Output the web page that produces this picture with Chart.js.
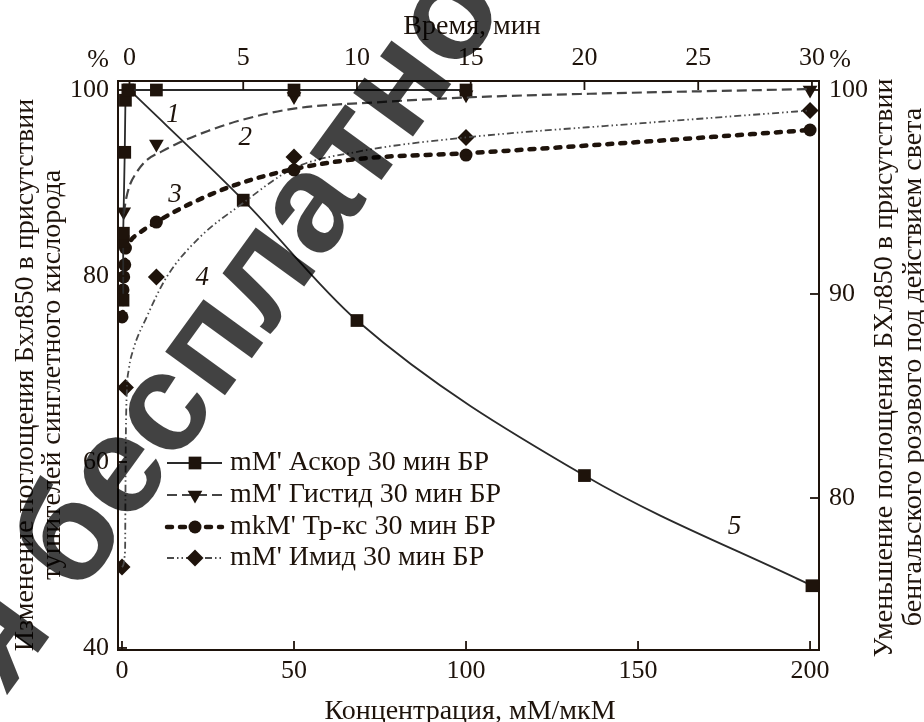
<!DOCTYPE html>
<html><head><meta charset="utf-8">
<script src="https://cdn.jsdelivr.net/npm/chart.js@4.4.1/dist/chart.umd.min.js"></script>
<style>html,body{margin:0;padding:0;background:#fff;}canvas{display:block;}</style>
</head><body>
<canvas id="c" width="924" height="722"></canvas>
<script>
// ---- tick labels ----
const concTicks = [0, 50, 100, 150, 200];
const timeTicks = [0, 5, 10, 15, 20, 25, 30];
const leftTicks = [40, 60, 80, 100];
const rightTicks = [80, 90, 100];

// ---- series names ----
const seriesNames = ["mM' Аскор 30 мин БР", "mM' Гистид 30 мин БР", "mkM' Тр-кс 30 мин БР", "mM' Имид 30 мин БР"];

// ---- curve 1: ascorbate (concentration, left axis) ----
const ascConc = [0.3, 0.3, 0.4, 0.8, 1.0, 1.7, 10, 50, 100];
const ascVal  = [77.4, 83.7, 84.6, 93.3, 98.9, 100, 100, 100, 100];

// ---- curve 2: histidine ----
const hisConc = [0.5, 10, 50, 100, 200];
const hisVal  = [86.9, 94.2, 99.3, 99.5, 100];
const hisFitConc = [0.5, 1.2, 2.3, 4, 7, 11.6, 17, 25, 35, 50, 75, 100, 136, 200];
const hisFitVal  = [86.7, 88.3, 89.8, 91.0, 92.4, 93.4, 94.4, 95.6, 96.8, 98.0, 98.7, 99.2, 99.6, 100.1];

// ---- curve 3: Trolox ----
const trxConc = [0, 0.3, 0.5, 0.8, 1.0, 10, 50, 100, 200];
const trxVal  = [75.6, 78.5, 79.9, 81.2, 83.0, 85.8, 91.4, 93.0, 95.7];
const trxFitConc = [0.2, 0.5, 1, 2, 5, 10, 20, 33, 50, 69, 100, 150, 200];
const trxFitVal  = [75.6, 79.0, 82.0, 83.4, 84.6, 85.8, 87.8, 89.8, 91.5, 92.6, 93.2, 94.4, 95.7];

// ---- curve 4: imidazole ----
const imdConc = [0, 1.0, 10, 50, 100, 200];
const imdVal  = [48.7, 68.0, 79.9, 92.8, 94.9, 97.8];
const imdFitConc = [0, 0.9, 1.0, 1.1, 1.4, 2.0, 3.2, 7.2, 13, 22.7, 34.3, 50, 69, 100, 150, 200];
const imdFitVal  = [48.7, 50.5, 56, 62, 67.5, 70.0, 72.0, 75.6, 79.9, 84.2, 87.6, 91.6, 93.4, 94.9, 96.4, 97.8];

// ---- curve 5: bleaching vs time (top axis, right axis) ----
const timeMin   = [0, 5, 10, 20, 30];
const bleachVal = [100, 94.6, 88.7, 81.1, 75.7];

// ---- curve number labels ----
const curveLabels = ['1', '2', '3', '4', '5'];
const curveLabelX = [14.8, 35.8, 15.4, 23.3, 26.6];
const curveLabelY = [97.3, 94.9, 88.7, 79.8, 78.6];

const watermarkText = 'я бесплатно';

const ink = '#1e130b';
const serif = '"Liberation Serif","Times New Roman",serif';
const pts = (xs, ys) => xs.map((x, i) => ({x, y: ys[i]}));

const datasets = [
  {label: seriesNames[0], data: pts(ascConc, ascVal), xAxisID: 'x', yAxisID: 'y', showLine: true,
   borderColor: '#2a2a2a', borderWidth: 1.8, tension: 0, pointStyle: 'rect', pointRadius: 9,
   pointBackgroundColor: ink, pointBorderColor: ink, pointBorderWidth: 0},
  {label: seriesNames[1] + ' fit', data: pts(hisFitConc, hisFitVal), xAxisID: 'x', yAxisID: 'y', showLine: true,
   borderColor: '#454545', borderWidth: 2.2, borderDash: [10, 5], pointRadius: 0, cubicInterpolationMode: 'monotone'},
  {label: seriesNames[1], data: pts(hisConc, hisVal), xAxisID: 'x', yAxisID: 'y', showLine: false,
   pointStyle: 'triangle', pointRotation: 180, pointRadius: 8.5, pointBackgroundColor: ink, pointBorderColor: ink, pointBorderWidth: 0},
  {label: seriesNames[2] + ' fit', data: pts(trxFitConc, trxFitVal), xAxisID: 'x', yAxisID: 'y', showLine: true,
   borderColor: ink, borderWidth: 4.5, borderDash: [5, 8], borderCapStyle: 'round', pointRadius: 0, cubicInterpolationMode: 'monotone'},
  {label: seriesNames[2], data: pts(trxConc, trxVal), xAxisID: 'x', yAxisID: 'y', showLine: false,
   pointStyle: 'circle', pointRadius: 6.5, pointBackgroundColor: ink, pointBorderColor: ink, pointBorderWidth: 0},
  {label: seriesNames[3] + ' fit', data: pts(imdFitConc, imdFitVal), xAxisID: 'x', yAxisID: 'y', showLine: true,
   borderColor: '#4a4a4a', borderWidth: 1.8, borderDash: [7, 3, 1.5, 3, 1.5, 3], pointRadius: 0, cubicInterpolationMode: 'monotone'},
  {label: seriesNames[3], data: pts(imdConc, imdVal), xAxisID: 'x', yAxisID: 'y', showLine: false,
   pointStyle: 'rectRot', pointRadius: 8.5, pointBackgroundColor: ink, pointBorderColor: ink, pointBorderWidth: 0},
  {label: 'БР свет', data: pts(timeMin, bleachVal), xAxisID: 'x2', yAxisID: 'y2', showLine: true,
   borderColor: '#2a2a2a', borderWidth: 1.8, cubicInterpolationMode: 'monotone', pointStyle: 'rect', pointRadius: 9,
   pointBackgroundColor: ink, pointBorderColor: ink, pointBorderWidth: 0}
];

const legendEntries = [
  {name: seriesNames[0], line: 0, mark: 0},
  {name: seriesNames[1], line: 1, mark: 2},
  {name: seriesNames[2], line: 3, mark: 4},
  {name: seriesNames[3], line: 5, mark: 6}
];

const tickFont = {family: serif, size: 26};
const setTicks = arr => s => { s.ticks = arr.map(v => ({value: v})); };
const border = {display: true, color: ink, width: 2};
const noGrid = {display: false, drawTicks: false};

const decor = {
  id: 'decor',
  afterDatasetsDraw(chart) {
    const {ctx, chartArea: a, scales} = chart;
    ctx.save();
    // inward ticks
    ctx.strokeStyle = ink; ctx.lineWidth = 1.8;
    const L = 9;
    const seg = (x1, y1, x2, y2) => { ctx.beginPath(); ctx.moveTo(x1, y1); ctx.lineTo(x2, y2); ctx.stroke(); };
    concTicks.forEach(v => { const x = scales.x.getPixelForValue(v); seg(x, a.bottom, x, a.bottom - L); });
    timeTicks.forEach(v => { const x = scales.x2.getPixelForValue(v); seg(x, a.top, x, a.top + L); });
    leftTicks.forEach(v => { const y = scales.y.getPixelForValue(v); seg(a.left, y, a.left + L, y); });
    rightTicks.forEach(v => { const y = scales.y2.getPixelForValue(v); seg(a.right, y, a.right - L, y); });

    ctx.fillStyle = ink;
    // axis titles
    ctx.font = '28px ' + serif;
    ctx.textAlign = 'center'; ctx.textBaseline = 'alphabetic';
    ctx.fillText('Время, мин', 472, 34);
    ctx.fillText('Концентрация, мМ/мкМ', 470, 719);
    ctx.font = '26px ' + serif;
    ctx.fillText('%', 98, 67);
    ctx.fillText('%', 840, 67);
    ctx.font = '28px ' + serif;
    const rot = (t, x, y) => { ctx.save(); ctx.translate(x, y); ctx.rotate(-Math.PI / 2); ctx.fillText(t, 0, 0); ctx.restore(); };
    rot('Изменение поглощения Бхл850 в присутствии', 33, 375);
    rot('тушителей синглетного кислорода', 60, 375);
    rot('Уменьшение поглощения БХл850 в присутствии', 892, 368);
    rot('бенгальского розового под действием света', 921, 367);

    // curve numbers
    ctx.font = 'italic 27px ' + serif;
    ctx.textBaseline = 'middle';
    curveLabels.forEach((t, i) => {
      const sx = i === 4 ? scales.x2 : scales.x, sy = i === 4 ? scales.y2 : scales.y;
      ctx.fillText(t, sx.getPixelForValue(curveLabelX[i]), sy.getPixelForValue(curveLabelY[i]));
    });

    // legend
    const ly = [463, 495, 527, 558];
    legendEntries.forEach((e, i) => {
      const ld = chart.data.datasets[e.line], md = chart.data.datasets[e.mark];
      const y = ly[i];
      ctx.save();
      ctx.strokeStyle = ld.borderColor; ctx.lineWidth = ld.borderWidth;
      ctx.setLineDash(ld.borderDash || []); ctx.lineCap = ld.borderCapStyle || 'butt';
      seg(167, y, 222, y);
      ctx.restore();
      ctx.save();
      ctx.fillStyle = ink; ctx.strokeStyle = ink;
      Chart.helpers.drawPoint(ctx, {pointStyle: md.pointStyle, rotation: md.pointRotation || 0,
        radius: md.pointRadius, borderWidth: 0}, 195, y);
      ctx.restore();
      ctx.font = '28px ' + serif; ctx.textAlign = 'left'; ctx.textBaseline = 'middle';
      ctx.fillText(e.name, 230, y);
    });
    ctx.restore();
  },
  afterDraw(chart) {
    const ctx = chart.ctx;
    ctx.save();
    ctx.translate(228, 330);
    ctx.rotate(-54 * Math.PI / 180);
    ctx.font = 'bold 140px "Liberation Sans", Arial, sans-serif';
    ctx.fillStyle = 'rgba(0,0,0,0.74)';
    ctx.textAlign = 'center'; ctx.textBaseline = 'alphabetic';
    ctx.fillText(watermarkText, 0, 36);
    ctx.restore();
  }
};

new Chart(document.getElementById('c'), {
  type: 'scatter',
  data: {datasets},
  plugins: [decor],
  options: {
    responsive: false, animation: false, devicePixelRatio: 1,
    layout: {padding: 0, autoPadding: false},
    plugins: {legend: {display: false}, tooltip: {enabled: false}},
    scales: {
      x: {type: 'linear', position: 'bottom', min: -1.16, max: 202.6, afterBuildTicks: setTicks(concTicks),
          afterFit: s => { s.height = 72; }, grid: noGrid, border,
          ticks: {font: tickFont, color: ink, padding: 6, maxRotation: 0}},
      x2: {type: 'linear', position: 'top', min: -0.505, max: 30.31, afterBuildTicks: setTicks(timeTicks),
          afterFit: s => { s.height = 81; }, grid: noGrid, border,
          ticks: {font: tickFont, color: ink, padding: 7, maxRotation: 0}},
      y: {type: 'linear', position: 'left', min: 39.78, max: 100.97, afterBuildTicks: setTicks(leftTicks),
          afterFit: s => { s.width = 118; }, grid: noGrid, border,
          ticks: {font: tickFont, color: ink, padding: 9}},
      y2: {type: 'linear', position: 'right', min: 72.55, max: 100.44, afterBuildTicks: setTicks(rightTicks),
          afterFit: s => { s.width = 105; }, grid: noGrid, border,
          ticks: {font: tickFont, color: ink, padding: 10}}
    }
  }
});
</script>
</body></html>
